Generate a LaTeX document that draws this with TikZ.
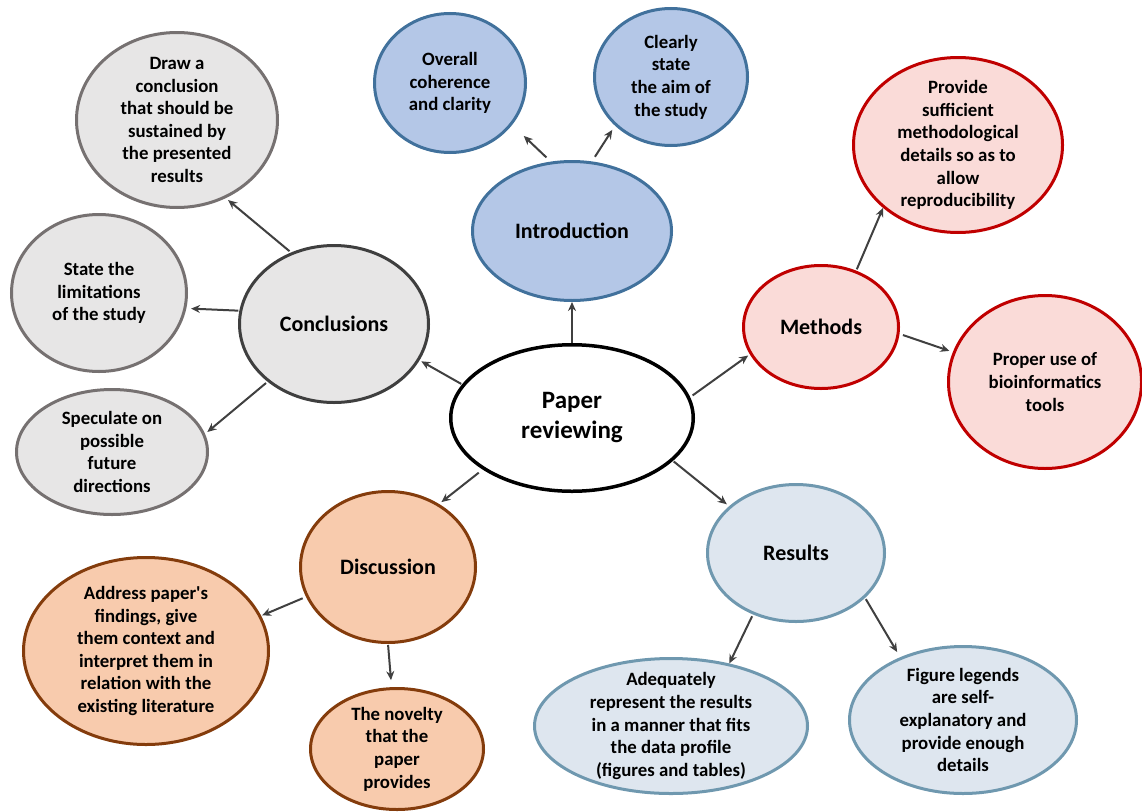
\documentclass[tikz,border=0pt]{standalone}
\usepackage{fontspec}
\setmainfont{Carlito}
\usetikzlibrary{shapes.geometric,arrows.meta}
\definecolor{blueF}{HTML}{B4C7E7}
\definecolor{blueD}{HTML}{41719C}
\definecolor{redF}{HTML}{FADBD8}
\definecolor{redD}{HTML}{C00000}
\definecolor{resF}{HTML}{DEE6EF}
\definecolor{resD}{HTML}{6F98AF}
\definecolor{disF}{HTML}{F8CBAD}
\definecolor{disD}{HTML}{843C0C}
\definecolor{conF}{HTML}{E7E6E6}
\definecolor{conD}{HTML}{3F3F3F}
\definecolor{greyD}{HTML}{767171}
\definecolor{arrowc}{HTML}{404040}
\tikzset{
  ell/.style={ellipse, draw, line width=3pt, inner sep=0pt},
  blueE/.style={ell, fill=blueF, draw=blueD},
  redE/.style={ell, fill=redF, draw=redD},
  resE/.style={ell, fill=resF, draw=resD},
  disE/.style={ell, fill=disF, draw=disD},
  conE/.style={ell, fill=conF, draw=conD},
  greyE/.style={ell, fill=conF, draw=greyD},
  small/.style={align=center, inner sep=0pt, font=\bfseries\fontsize{18.8}{22.6}\selectfont},
  big/.style={align=center, inner sep=0pt, font=\bfseries\fontsize{22}{26}\selectfont},
  huge/.style={align=center, inner sep=0pt, font=\bfseries\fontsize{25}{30}\selectfont},
  conn/.style={draw=arrowc, line width=2pt, -{Stealth[length=9pt,width=8pt]}},
}
\begin{document}
\begin{tikzpicture}[x=1pt,y=-1pt]
\useasboundingbox (0,0) rectangle (1142,811);

% centre
\node[ell, fill=white, draw=black, line width=3.5pt, minimum width=242.5pt, minimum height=146.5pt] (paper) at (572,418) {};
\node[huge] (paperT) at (paper) {Paper\\reviewing};

% introduction
\node[blueE, minimum width=199pt, minimum height=139pt] (intro) at (572,231) {};
\node[big] (introT) at (intro) {Introduction};
\node[blueE, minimum width=151pt, minimum height=139pt] (overall) at (450,83) {};
\node[small] (overallT) at (overall) {Overall\\coherence\\and clarity};
\node[blueE, minimum width=153pt, minimum height=137pt] (clearly) at (671,77) {};
\node[small] (clearlyT) at (clearly) {Clearly\\state\\the aim of\\the study};

% methods
\node[redE, minimum width=155pt, minimum height=123pt] (methods) at (821,327) {};
\node[big] (methodsT) at (methods) {Methods};
\node[redE, minimum width=209pt, minimum height=175pt] (provide) at (958,145) {};
\node[small] (provideT) at (provide) {Provide\\sufficient\\methodological\\details so as to\\allow\\reproducibility};
\node[redE, minimum width=193pt, minimum height=173pt] (proper) at (1045,382) {};
\node[small] (properT) at (proper) {Proper use of\\bioinformatics\\tools};

% results
\node[resE, minimum width=177pt, minimum height=137pt] (results) at (796,553) {};
\node[big] (resultsT) at (results) {Results};
\node[resE, minimum width=273pt, minimum height=135pt] (adeq) at (671,726) {};
\node[small] (adeqT) at (adeq) {Adequately\\represent the results\\in a manner that fits\\the data profile\\(figures and tables)};
\node[resE, minimum width=227pt, minimum height=147pt] (figleg) at (963,720) {};
\node[small] (figlegT) at (figleg) {Figure legends\\are self-\\explanatory and\\provide enough\\details};

% discussion
\node[disE, minimum width=175pt, minimum height=151pt] (disc) at (388,567) {};
\node[big] (discT) at (disc) {Discussion};
\node[disE, minimum width=245pt, minimum height=187pt] (address) at (146,651) {};
\node[small] (addressT) at (address) {Address paper\textquotesingle s\\findings, give\\them context and\\interpret them in\\relation with the\\existing literature};
\node[disE, minimum width=173pt, minimum height=121pt] (novelty) at (397,749) {};
\node[small] (noveltyT) at (novelty) {The novelty\\that the\\paper\\provides};

% conclusions
\node[conE, minimum width=189pt, minimum height=157pt] (concl) at (334,324) {};
\node[big] (conclT) at (concl) {Conclusions};
\node[greyE, minimum width=201pt, minimum height=175pt] (drawc) at (177,120) {};
\node[small] (drawcT) at (drawc) {Draw a\\conclusion\\that should be\\sustained by\\the presented\\results};
\node[greyE, minimum width=175pt, minimum height=157pt] (state) at (99,293) {};
\node[small] (stateT) at (state) {State the\\limitations\\of the study};
\node[greyE, minimum width=191pt, minimum height=125pt] (spec) at (112,452) {};
\node[small] (specT) at (spec) {Speculate on\\possible\\future\\directions};

% connectors
\draw[conn] (paper.90) -- (intro.270);
\draw[conn, shorten <=1pt, shorten >=2pt] (paper.163.6) -- (concl.337.4);
\draw[conn, shorten <=3pt, shorten >=2pt] (paper.10.3) -- (methods.201.7);
\draw[conn, shorten <=5pt, shorten >=3pt] (paper.210.6) -- (disc.51.8);
\draw[conn, shorten <=1pt, shorten >=3pt] (paper.337.8) -- (results.145.6);

\draw[conn, shorten <=6pt, shorten >=16pt] (intro.107) -- (overall.326);
\draw[conn, shorten <=5.5pt, shorten >=5pt] (intro.74.4) -- (clearly.221.9);

\draw[conn, shorten <=2pt, shorten >=3pt] (concl.121.1) -- (drawc.302.5);
\draw[conn, shorten <=1pt, shorten >=4.7pt] (concl.172.3) -- (state.350.1);
\draw[conn, shorten <=2pt, shorten >=3pt] (concl.221.8) -- (spec.11.9);

\draw[conn, shorten <=3.6pt, shorten >=1pt] (disc.200.6) -- (address.17.2);
\draw[conn, shorten <=1pt, shorten >=7pt] (disc.270.7) -- (novelty.95);

\draw[conn, shorten <=2pt] (results.235.1) -- (adeq.47.4);
\draw[conn, shorten <=1.5pt, shorten >=6pt] (results.327.6) -- (figleg.135.4);

\draw[conn, shorten <=1.4pt] (methods.58.9) -- (provide.220.4);
\draw[conn, shorten <=3.6pt, shorten >=3.7pt] (methods.355.1) -- (proper.162.6);
\end{tikzpicture}
\end{document}
